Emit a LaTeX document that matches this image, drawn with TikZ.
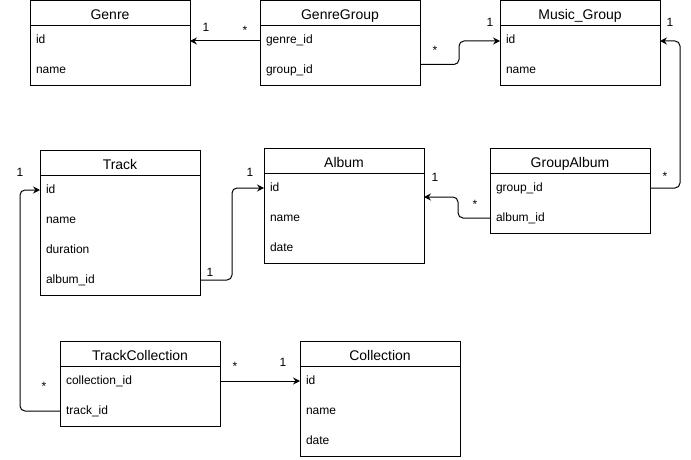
\documentclass[tikz,border=0pt]{standalone}
\usepackage{fontspec}
\setmainfont{Liberation Sans}
\usetikzlibrary{arrows.meta}
\begin{document}
\begin{tikzpicture}[x=1pt,y=-1pt,line width=1pt,
  hdr/.style={draw, anchor=north west, minimum width=160pt, minimum height=25pt,
    inner sep=0pt, outer sep=0pt, text height=14pt, text depth=1pt, font=\fontsize{14}{16}\selectfont},
  fld/.style={anchor=north west, text width=148pt, inner xsep=6pt, inner ysep=0pt, outer sep=0pt,
    minimum height=30pt, align=left, text height=9pt, text depth=3pt,
    font=\fontsize{12}{14}\selectfont},
  frame/.style={draw},
  conn/.style={draw, rounded corners=5pt, -{Stealth[length=7pt,width=7pt,inset=2.5pt]}},
  lbl/.style={anchor=base, inner sep=0pt, font=\fontsize{12}{14}\selectfont}]
\fill[white] (0,0) rectangle (691,460);
\useasboundingbox (0,0) rectangle (691,460);

% Genre
\node[hdr] (genre) at (30,1) {Genre};
\node[fld] (genre-id) at (30,26) {id};
\node[fld] (genre-name) at (30,56) {name};
\draw[frame] (genre.north west) rectangle (genre-name.south east);

% GenreGroup
\node[hdr] (gg) at (260,1) {GenreGroup};
\node[fld] (gg-genre) at (260,26) {genre\_id};
\node[fld] (gg-group) at (260,56) {group\_id};
\draw[frame] (gg.north west) rectangle (gg-group.south east);

% Music_Group
\node[hdr] (mg) at (500,1) {Music\_Group};
\node[fld] (mg-id) at (500,26) {id};
\node[fld] (mg-name) at (500,56) {name};
\draw[frame] (mg.north west) rectangle (mg-name.south east);

% Track
\node[hdr] (tr) at (40,150) {Track};
\node[fld] (tr-id) at (40,175) {id};
\node[fld] (tr-name) at (40,205) {name};
\node[fld] (tr-dur) at (40,235) {duration};
\node[fld] (tr-album) at (40,265) {album\_id};
\draw[frame] (tr.north west) rectangle (tr-album.south east);

% Album
\node[hdr] (al) at (264,148) {Album};
\node[fld] (al-id) at (264,173) {id};
\node[fld] (al-name) at (264,203) {name};
\node[fld] (al-date) at (264,233) {date};
\draw[frame] (al.north west) rectangle (al-date.south east);

% GroupAlbum
\node[hdr] (ga) at (490,148) {GroupAlbum};
\node[fld] (ga-group) at (490,173) {group\_id};
\node[fld] (ga-album) at (490,203) {album\_id};
\draw[frame] (ga.north west) rectangle (ga-album.south east);

% TrackCollection
\node[hdr] (tc) at (60,341) {TrackCollection};
\node[fld] (tc-coll) at (60,366) {collection\_id};
\node[fld] (tc-track) at (60,396) {track\_id};
\draw[frame] (tc.north west) rectangle (tc-track.south east);

% Collection
\node[hdr] (co) at (300,341) {Collection};
\node[fld] (co-id) at (300,366) {id};
\node[fld] (co-name) at (300,396) {name};
\node[fld] (co-date) at (300,426) {date};
\draw[frame] (co.north west) rectangle (co-date.south east);

% connectors
\draw[conn] (gg-genre.west) -- (genre-id.east);
\draw[conn] ([yshift=6.5pt]gg-group.east) -- ++(39,0) |- (mg-id.west);
\draw[conn] (ga-group.east) -- ++(30,0) |- (mg-id.east);
\draw[conn] (ga-album.west) -- ++(-32,0) |- ([yshift=-9pt]al-id.east);
\draw[conn] (tr-album.east) -- ++(32,0) |- (al-id.west);
\draw[conn] (tc-track.west) -- ++(-40,0) |- (tr-id.west);
\draw[conn] (tc-coll.east) -- (co-id.west);

% multiplicity labels
\node[lbl] (m1) at (206,31.3) {1};
\node[lbl] (m2) at (245,35) {*};
\node[lbl] (m3) at (435,55) {*};
\node[lbl] (m4) at (490,27) {1};
\node[lbl] (m5) at (670,26.3) {1};
\node[lbl] (m6) at (665,180) {*};
\node[lbl] (m7) at (435,181.3) {1};
\node[lbl] (m8) at (475,208) {*};
\node[lbl] (m9) at (20,176.3) {1};
\node[lbl] (m10) at (250,176.3) {1};
\node[lbl] (m11) at (210,276.3) {1};
\node[lbl] (m12) at (44,390) {*};
\node[lbl] (m13) at (235,370) {*};
\node[lbl] (m14) at (283,366.3) {1};
\end{tikzpicture}
\end{document}
